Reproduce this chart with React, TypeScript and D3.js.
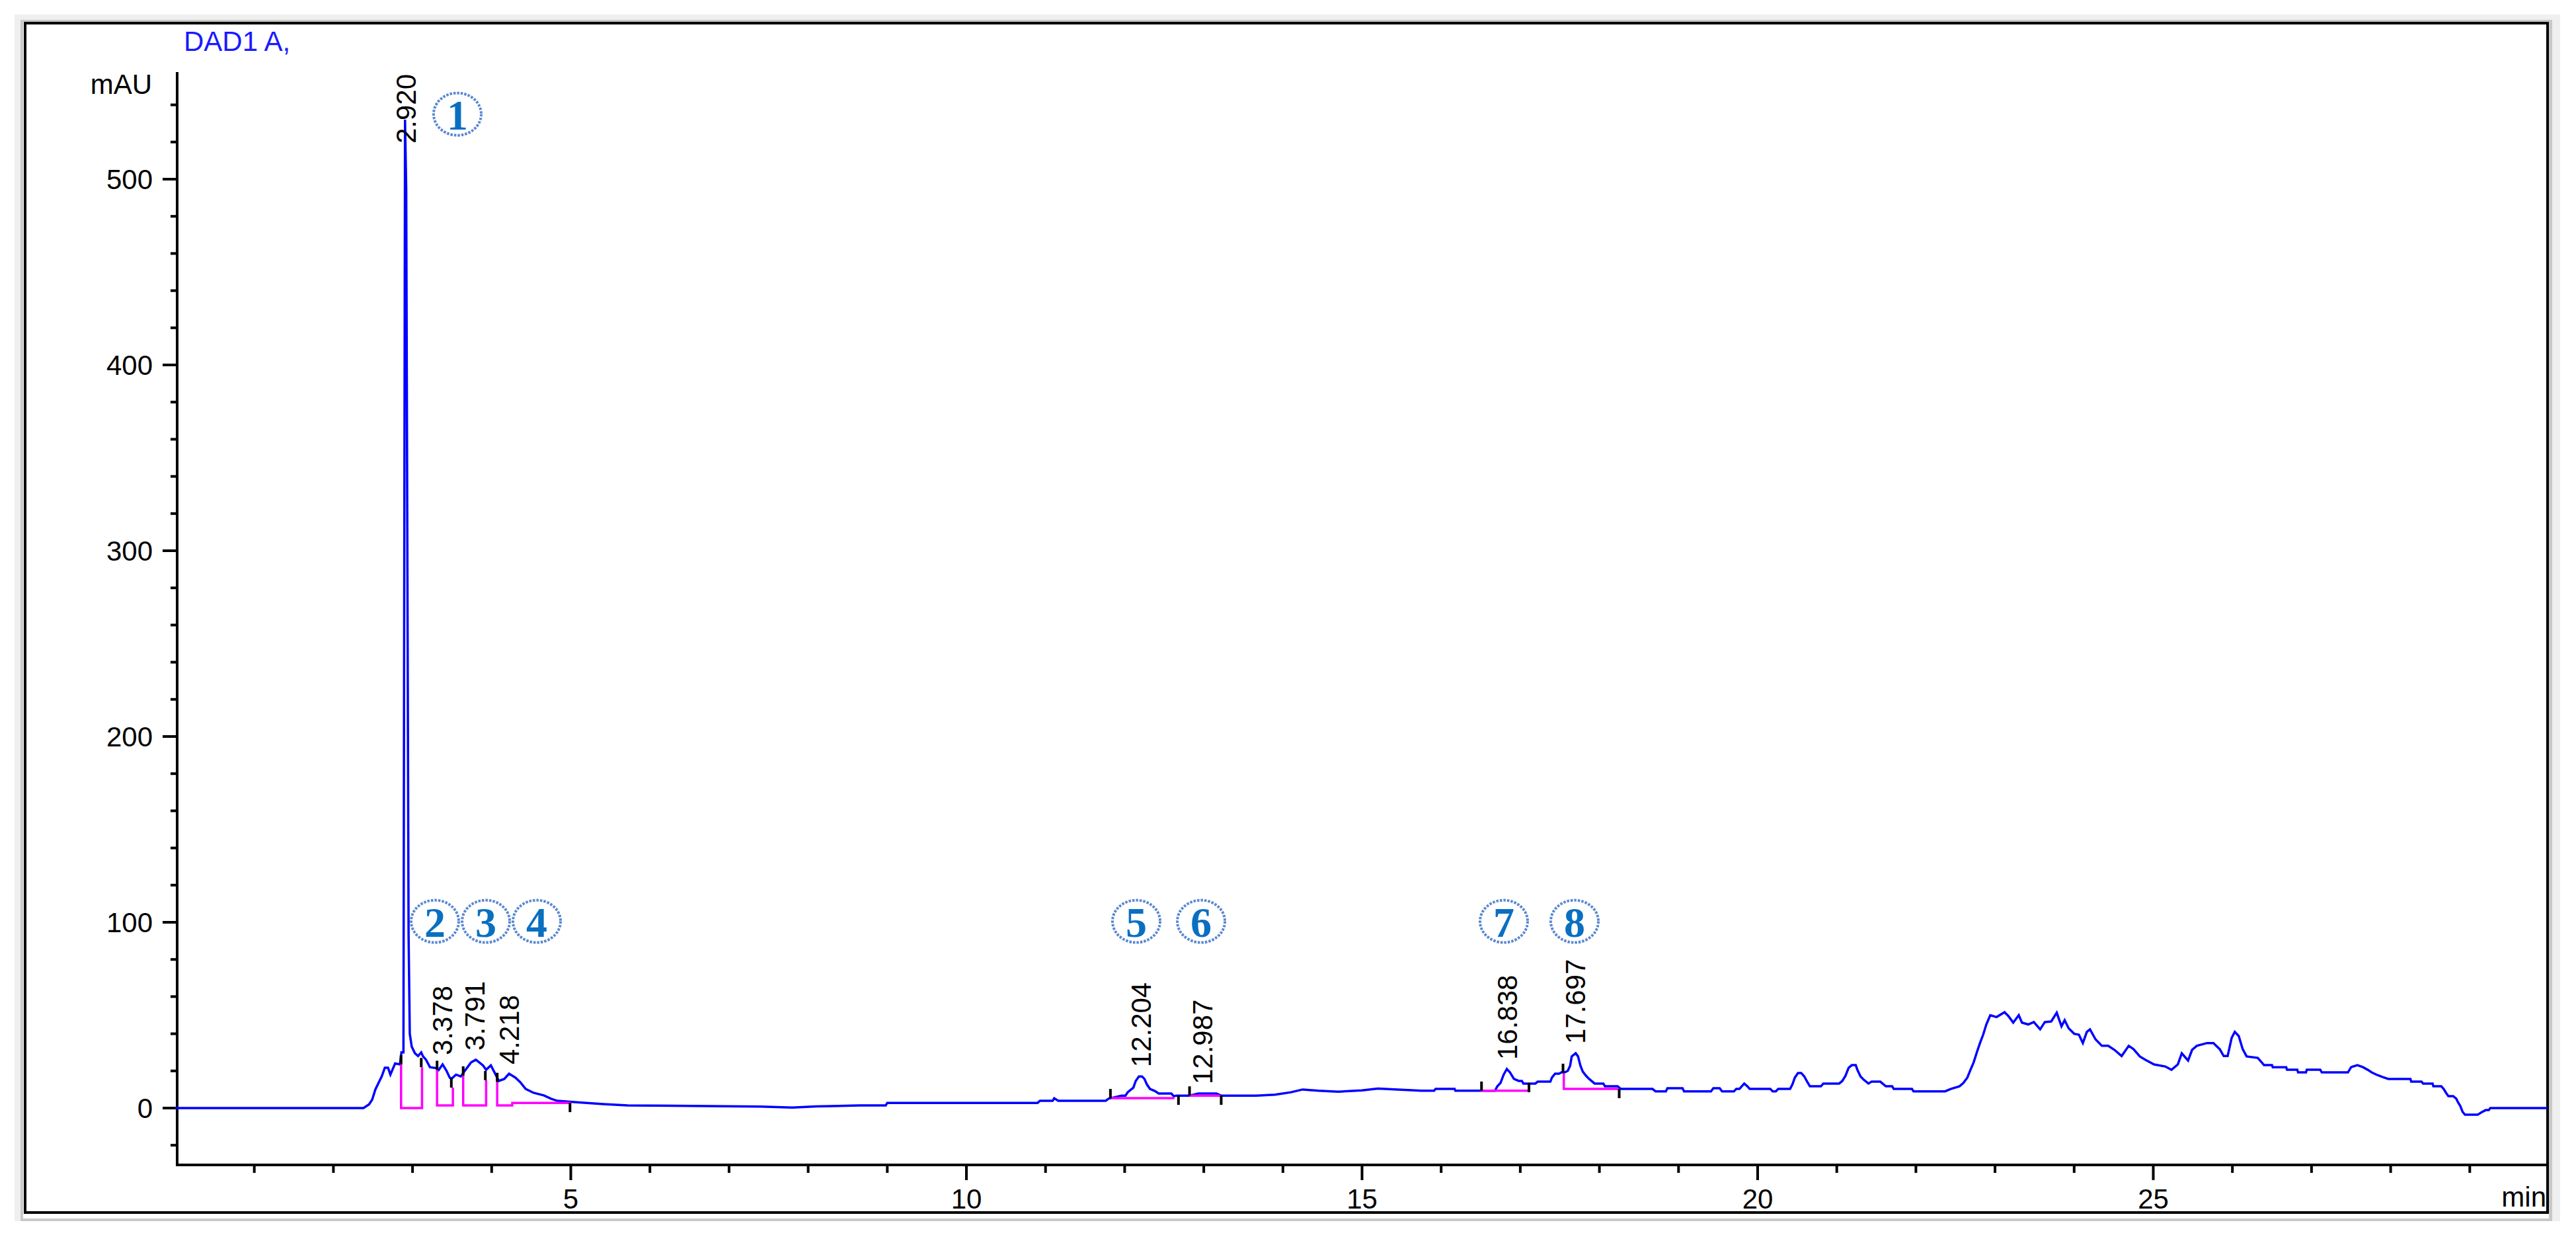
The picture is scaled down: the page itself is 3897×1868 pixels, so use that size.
import React from 'react';
import * as d3 from 'd3';

const W = 3897;
const H = 1868;

// Chromatogram trace: [time (min), absorbance (mAU)]
const trace: [number, number][] = [
  [0, 0], [2.38, 0], [2.45, 2], [2.49, 4.5], [2.53, 10], [2.57, 13.5], [2.61, 17], [2.65, 21.7], [2.69, 21.7],
  [2.72, 18], [2.74, 20], [2.78, 24], [2.84, 23.5], [2.86, 30], [2.885, 30], [2.905, 532], [2.92, 495],
  [2.95, 93], [2.965, 40], [2.99, 33], [3.03, 29.5], [3.07, 28], [3.11, 30], [3.13, 28], [3.17, 26], [3.22, 22],
  [3.30, 21.5], [3.33, 20.5], [3.38, 23.5], [3.43, 20], [3.47, 16.4], [3.49, 15.7], [3.55, 18], [3.61, 17],
  [3.66, 20], [3.74, 24.6], [3.80, 26], [3.89, 23], [3.93, 20.6], [3.99, 23], [4.05, 18], [4.09, 14.6],
  [4.16, 15.7], [4.22, 18.5], [4.30, 16.4], [4.36, 14], [4.43, 10.3], [4.53, 8.2], [4.66, 6.8], [4.75, 5],
  [4.83, 3.9], [5.05, 3.2], [5.41, 2.1], [5.72, 1.4], [6.5, 1.2], [7.4, 0.8], [7.8, 0.3], [8.1, 0.9],
  [8.65, 1.4], [8.98, 1.4], [9.0, 2.8], [10.9, 2.8], [10.93, 3.9], [11.09, 3.9], [11.11, 5.3], [11.16, 3.9],
  [11.76, 3.9], [11.8, 5.1], [11.82, 5.3], [11.96, 6.7], [12.01, 6.7], [12.04, 8.6], [12.11, 11], [12.14, 14.6],
  [12.18, 17], [12.22, 17], [12.25, 15.7], [12.28, 12.8], [12.32, 10.3], [12.38, 9.2], [12.43, 7.8], [12.59, 7.8],
  [12.62, 6.4], [12.66, 6.7], [12.82, 6.7], [12.93, 7.8], [13.16, 7.8], [13.22, 6.7], [13.66, 6.7], [13.9, 7.2],
  [14.1, 8.5], [14.25, 10], [14.45, 9.3], [14.7, 8.8], [15.0, 9.5], [15.2, 10.5], [15.45, 10], [15.75, 9.3],
  [15.91, 9.3], [15.93, 10.3], [16.17, 10.3], [16.18, 9.3], [16.68, 9.3], [16.71, 11.7], [16.75, 13.5],
  [16.79, 18], [16.83, 21], [16.87, 19.2], [16.92, 15.7], [16.98, 14.6], [17.02, 14.6], [17.04, 13.2],
  [17.19, 13.2], [17.22, 14.2], [17.38, 14.2], [17.40, 16.4], [17.44, 18.5], [17.49, 18.5], [17.52, 19.2],
  [17.56, 19.2], [17.60, 20], [17.63, 22.8], [17.65, 27.8], [17.70, 29.5], [17.73, 27.8], [17.76, 22.8],
  [17.79, 19.6], [17.83, 17.4], [17.87, 15.7], [17.94, 13.2], [18.05, 13.2], [18.07, 11.7], [18.23, 11.7],
  [18.27, 10.3], [18.67, 10.3], [18.71, 9], [18.84, 9], [18.86, 10.7], [19.05, 10.7], [19.07, 9], [19.41, 9],
  [19.44, 10.7], [19.52, 10.7], [19.55, 9], [19.70, 9], [19.73, 10.3], [19.77, 10.3], [19.83, 13.2],
  [19.87, 11.7], [19.9, 10.3], [20.16, 10.3], [20.19, 9], [20.23, 9], [20.26, 10.3], [20.41, 10.3],
  [20.44, 12.8], [20.47, 16.4], [20.51, 18.9], [20.55, 18.9], [20.59, 17], [20.62, 14.6], [20.66, 11.7],
  [20.80, 11.7], [20.83, 13.2], [21.03, 13.2], [21.07, 14.6], [21.11, 17.4], [21.15, 21.7], [21.19, 23.1],
  [21.24, 23.1], [21.26, 20.6], [21.30, 17], [21.34, 15.3], [21.40, 13.2], [21.44, 14.2], [21.55, 14.2],
  [21.62, 11.7], [21.70, 11.7], [21.72, 10.3], [21.95, 10.3], [21.97, 9], [22.37, 9], [22.44, 10.3],
  [22.55, 11.7], [22.6, 13.5], [22.65, 16.4], [22.69, 20.6], [22.73, 24.6], [22.77, 30], [22.81, 35],
  [22.85, 39.5], [22.89, 45], [22.94, 50], [23.02, 49], [23.12, 51.6], [23.17, 49.5], [23.23, 46], [23.30, 50],
  [23.34, 46], [23.42, 45], [23.49, 46.3], [23.57, 42.4], [23.63, 46.3], [23.71, 46.6], [23.78, 51.3],
  [23.84, 44], [23.88, 47.3], [23.93, 43], [24.0, 40], [24.06, 39.5], [24.11, 35], [24.16, 41], [24.2, 42.4],
  [24.27, 37], [24.35, 33.5], [24.43, 33.5], [24.51, 31.3], [24.6, 28], [24.69, 33.5], [24.75, 31.7],
  [24.83, 27.8], [24.90, 26], [25.01, 23.5], [25.15, 22.4], [25.23, 20.6], [25.31, 23.5], [25.36, 29.5],
  [25.44, 25.6], [25.49, 31.3], [25.55, 33.5], [25.68, 35], [25.76, 35], [25.84, 31.7], [25.89, 28],
  [25.94, 28], [25.99, 37.7], [26.03, 41], [26.08, 38.8], [26.13, 31.7], [26.18, 27.8], [26.32, 27],
  [26.37, 24.6], [26.4, 23.1], [26.5, 23.1], [26.51, 22], [26.68, 22], [26.69, 20.6], [26.82, 20.6],
  [26.83, 19.2], [26.93, 19.2], [26.94, 20.6], [27.11, 20.6], [27.13, 19.2], [27.46, 19.2], [27.50, 22],
  [27.58, 23.1], [27.65, 22], [27.71, 20.6], [27.76, 19.2], [27.83, 17.8], [27.90, 16.7], [27.97, 15.7],
  [28.25, 15.7], [28.26, 14.2], [28.39, 14.2], [28.41, 13.2], [28.53, 13.2], [28.54, 11.7], [28.64, 11.7],
  [28.67, 10.3], [28.7, 8.2], [28.73, 6.4], [28.79, 6.4], [28.83, 5], [28.85, 3.2], [28.88, 1.1],
  [28.91, -2.1], [28.94, -3.6], [29.1, -3.6], [29.14, -2.5], [29.2, -1.1], [29.24, -1.1], [29.26, 0], [29.98, 0],
];

// Integration baselines (magenta), one polyline per peak
const baselines: [number, number][][] = [
  [[2.855, 23.5], [2.855, 0], [3.12, 0], [3.12, 22]],
  [[3.31, 20.5], [3.31, 1.4], [3.51, 1.4], [3.51, 11]],
  [[3.64, 17.5], [3.64, 1.4], [3.93, 1.4], [3.93, 15]],
  [[4.07, 14], [4.07, 1.4], [4.26, 1.4], [4.26, 2.8], [5.0, 2.8]],
  [[11.83, 5.3], [12.63, 5.3]],
  [[12.82, 6.7], [13.21, 6.7]],
  [[16.5, 9.3], [17.11, 9.3]],
  [[17.55, 18.5], [17.55, 10.3], [18.24, 10.3]],
];

// Peak start/end markers: time, value, direction (1 up, -1 down)
const markerTime = [2.855, 3.11, 3.31, 3.49, 3.64, 3.92, 4.07, 4.99, 11.82, 12.68, 12.82, 13.22, 16.51, 17.11, 17.54, 18.25];
const markerMAU = [23.5, 22, 20.5, 11, 17.5, 15, 14, 2.8, 5.3, 6.7, 6.7, 6.7, 9.3, 13.5, 18.9, 10.3];
const markerDir = [1, 1, 1, 1, 1, 1, 1, -1, 1, -1, 1, -1, 1, -1, 1, -1];

// Retention-time labels
const peakRT = [2.92, 3.378, 3.791, 4.218, 12.204, 12.987, 16.838, 17.697];
const peakLabels = ['2.920', '3.378', '3.791', '4.218', '12.204', '12.987', '16.838', '17.697'];
const peakApex = [532, 23.5, 26, 18.5, 17, 7.8, 21, 29.5];

// Circled compound numbers
const circleNums = ['1', '2', '3', '4', '5', '6', '7', '8'];
const circleTime = [3.567, 3.283, 3.927, 4.57, 12.147, 12.966, 16.792, 17.686];
const circleMAU = [535, 100.5, 100.5, 100.5, 100.5, 100.5, 100.5, 100.5];

const xMajorTicks = [5, 10, 15, 20, 25];
const yMajorTicks = [0, 100, 200, 300, 400, 500];

const FONT = 'Liberation Sans, Arial, sans-serif';

export default function App() {
  const x = d3.scaleLinear().domain([0, 30]).range([265, 3856]);
  const y = d3.scaleLinear().domain([0, 500]).range([1676, 271]);

  const axisX = 268;
  const axisBottom = 1762;
  const axisTop = 109;
  const plotRight = 3854;

  const line = d3.line<[number, number]>().x(d => x(d[0])).y(d => y(d[1]));

  const xMinor = d3.range(1, 30, 1).filter(v => !xMajorTicks.includes(v));
  const yMinor = d3.range(-20, 541, 20).filter(v => !yMajorTicks.includes(v));

  return (
    <svg width={W} height={H} viewBox={`0 0 ${W} ${H}`} style={{ position: 'absolute', left: 0, top: 0, background: '#fff' }}>
      <rect x={0} y={0} width={W} height={H} fill="#ffffff" />
      {/* panel */}
      <rect x={22} y={22} width={3851} height={1825} fill="#efefef" />
      <rect x={31} y={30} width={3830} height={1817} fill="#c8c8c8" />
      <rect x={35} y={33} width={3821} height={1810} fill="#ffffff" />
      <rect x={38} y={35} width={3816} height={1799} fill="none" stroke="#000" strokeWidth={4} />

      {/* title */}
      <text x={278} y={77} fontFamily={FONT} fontSize={42} fill="#1a1aff">DAD1 A,</text>
      <text x={230} y={142} fontFamily={FONT} fontSize={42} fill="#000" textAnchor="end">mAU</text>

      {/* axes */}
      <line x1={axisX} y1={axisTop} x2={axisX} y2={axisBottom + 2} stroke="#000" strokeWidth={4} />
      <line x1={axisX - 2} y1={axisBottom} x2={plotRight} y2={axisBottom} stroke="#000" strokeWidth={4} />

      {yMinor.map(v => (
        <line key={'ym' + v} x1={axisX - 10} x2={axisX} y1={y(v)} y2={y(v)} stroke="#000" strokeWidth={4} />
      ))}
      {yMajorTicks.map(v => (
        <g key={'yM' + v}>
          <line x1={axisX - 22} x2={axisX} y1={y(v)} y2={y(v)} stroke="#000" strokeWidth={4} />
          <text x={231} y={y(v)} dy="0.35em" fontFamily={FONT} fontSize={42} textAnchor="end" fill="#000">{v}</text>
        </g>
      ))}
      {xMinor.map(v => (
        <line key={'xm' + v} x1={x(v)} x2={x(v)} y1={axisBottom} y2={axisBottom + 12} stroke="#000" strokeWidth={4} />
      ))}
      {xMajorTicks.map(v => (
        <g key={'xM' + v}>
          <line x1={x(v)} x2={x(v)} y1={axisBottom} y2={axisBottom + 23} stroke="#000" strokeWidth={4} />
          <text x={x(v)} y={1828} fontFamily={FONT} fontSize={42} textAnchor="middle" fill="#000">{v}</text>
        </g>
      ))}
      <text x={3852} y={1825} fontFamily={FONT} fontSize={42} textAnchor="end" fill="#000">min</text>

      {/* trace */}
      <path d={line(trace) || ''} fill="none" stroke="#0000ff" strokeWidth={3.5} strokeLinejoin="miter" />

      {/* integration baselines */}
      {baselines.map((b, i) => (
        <path key={'b' + i} d={line(b) || ''} fill="none" stroke="#ff00ff" strokeWidth={3.5} />
      ))}

      {/* markers */}
      {markerTime.map((t, i) => (
        <line key={'mk' + i} x1={x(t)} x2={x(t)} y1={y(markerMAU[i])} y2={y(markerMAU[i]) - markerDir[i] * 14}
          stroke="#000" strokeWidth={4} />
      ))}

      {/* retention time labels */}
      {peakRT.map((rt, i) => {
        const px = x(rt);
        const bottom = y(peakApex[i]) - 14;
        const clamp = bottom - 115 < 112;
        const ty = clamp ? 112 : bottom;
        return (
          <text key={'rt' + i} transform={`translate(${px},${ty}) rotate(-90)`} dy="0.35em"
            fontFamily={FONT} fontSize={42} fill="#000" textAnchor={clamp ? 'end' : 'start'}>
            {peakLabels[i]}
          </text>
        );
      })}

      {/* circled numbers */}
      {circleNums.map((n, i) => (
        <g key={'c' + i} transform={`translate(${x(circleTime[i])},${y(circleMAU[i])})`}>
          <ellipse rx={36} ry={32} fill="#ffffff" stroke="#5a88d2" strokeWidth={4} strokeDasharray="3.5 2" />
          <text dy="0.36em" textAnchor="middle" fontFamily="Liberation Serif, Times New Roman, serif"
            fontWeight="bold" fontSize={64} fill="#0a6fc1">{n}</text>
        </g>
      ))}
    </svg>
  );
}
